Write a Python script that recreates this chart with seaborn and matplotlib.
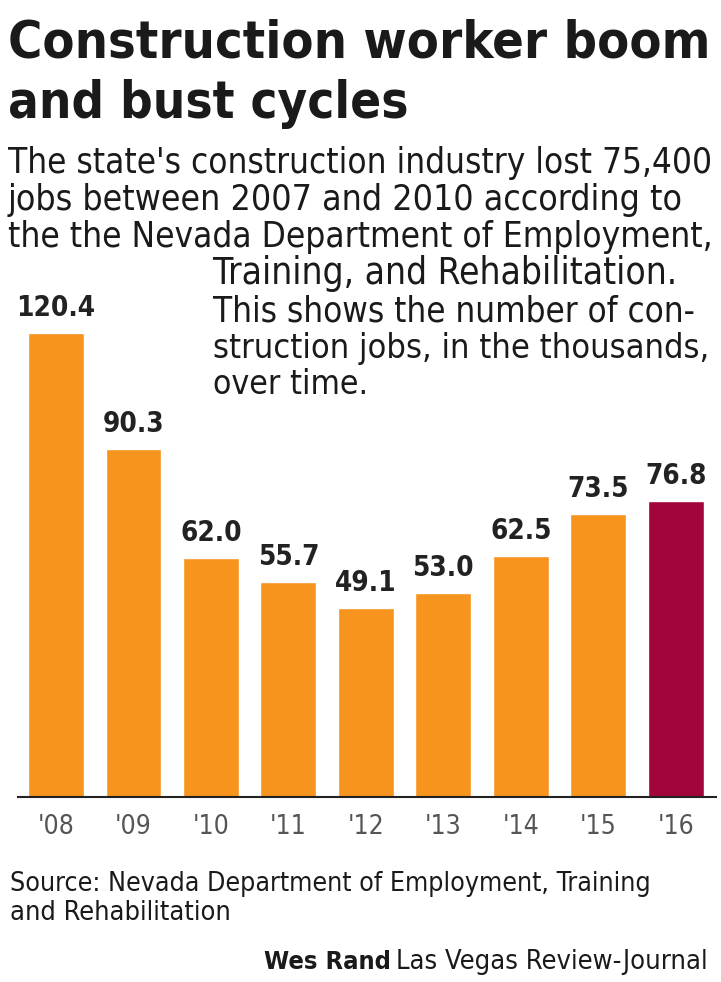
import matplotlib.pyplot as plt
import pandas as pd
import seaborn as sns
from matplotlib import font_manager

# data
years = ["'08", "'09", "'10", "'11", "'12", "'13", "'14", "'15", "'16"]
jobs = [120.4, 90.3, 62.0, 55.7, 49.1, 53.0, 62.5, 73.5, 76.8]
bar_colors = ["#F7941E"] * 8 + ["#A1053C"]

df = pd.DataFrame({"year": years, "jobs": jobs})

sns.set_theme(style="white")

# look for a condensed face, otherwise fall back to a narrow-ish sans
cond = [f for f in font_manager.fontManager.ttflist
        if "ondensed" in str(f.stretch) or "Narrow" in f.name or "Condensed" in f.name]
if cond:
    FAM = [cond[0].name, "DejaVu Sans"]
    STRETCH = "condensed"
else:
    FAM = ["Roboto", "DejaVu Sans"]
    STRETCH = "normal"
plt.rcParams["font.family"] = FAM

fig = plt.figure(figsize=(7.21, 9.82), dpi=100)
W, H = 721, 982
renderer = fig.canvas.get_renderer()


def fit_text(x, y, s, width, **kw):
    # place text then scale font so its width matches the reference
    t = fig.text(x / W, 1 - y / H, s, fontstretch=STRETCH, **kw)
    w = t.get_window_extent(renderer).width
    t.set_fontsize(t.get_fontsize() * width / w)
    return t


# axes: baseline at y=797px, left 18px, right 716px, top = value 130
ax = fig.add_axes([18 / W, 1 - 797 / H, (716 - 18) / W, 501 / H])
sns.barplot(data=df, x="year", y="jobs", hue="year", palette=bar_colors,
            width=0.72, legend=False, ax=ax, saturation=1)
ax.set_ylim(0, 130)
ax.set_xlim(-0.49, 8.52)
ax.set_xlabel("")
ax.set_ylabel("")
ax.set_yticks([])
for s in ["top", "right", "left"]:
    ax.spines[s].set_visible(False)
ax.spines["bottom"].set_color("#222222")
ax.spines["bottom"].set_linewidth(1.5)
ax.tick_params(axis="x", length=0, pad=12, labelsize=19, labelcolor="#555555")
for lab in ax.get_xticklabels():
    lab.set_fontstretch(STRETCH)
    lab.set_fontweight("light")
ax.patch.set_alpha(0)

for i, v in enumerate(jobs):
    ax.annotate(f"{v:.1f}", (i, v), xytext=(0, 8), textcoords="offset points",
                ha="center", va="bottom", fontsize=20, fontweight="bold",
                color="#222222", fontstretch=STRETCH)

# title
fit_text(8, 58, "Construction worker boom", 702, ha="left", va="baseline",
         fontsize=46, fontweight="bold", color="#1a1a1a")
fit_text(8, 118, "and bust cycles", 400, ha="left", va="baseline",
         fontsize=46, fontweight="bold", color="#1a1a1a")

# subtitle
sub_left = [("The state's construction industry lost 75,400", 704),
            ("jobs between 2007 and 2010 according to", 677),
            ("the the Nevada Department of Employment,", 706)]
sub_right = [("Training, and Rehabilitation.", 466),
             ("This shows the number of con-", 484),
             ("struction jobs, in the thousands,", 498),
             ("over time.", 156)]
y = 163
for line, w in sub_left:
    fit_text(8, y, line, w, ha="left", va="center", fontsize=23, color="#1a1a1a")
    y += 37
for line, w in sub_right:
    fit_text(213, y, line, w, ha="left", va="center", fontsize=23, color="#1a1a1a")
    y += 37

# source
fit_text(10, 884, "Source: Nevada Department of Employment, Training", 640,
         ha="left", va="center", fontsize=17, color="#1a1a1a")
fit_text(10, 913, "and Rehabilitation", 220,
         ha="left", va="center", fontsize=17, color="#1a1a1a")

# credit
t = fit_text(708, 962, "Las Vegas Review-Journal", 310,
             ha="right", va="center", fontsize=17, color="#1a1a1a")
bb = t.get_window_extent(renderer)
fit_text(0, 962, "Wes Rand", 127, ha="right", va="center",
         fontsize=17, fontweight="bold", color="#1a1a1a").set_x((bb.x0 - 6) / W)

fig.savefig("out.png", dpi=100, facecolor="white")
